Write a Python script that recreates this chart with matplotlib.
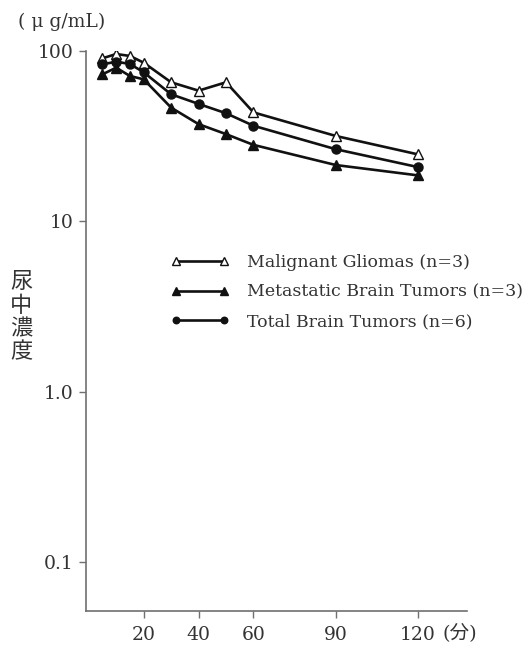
import matplotlib
matplotlib.use("Agg")
import matplotlib.pyplot as plt

plt.rcParams['font.family'] = ['DejaVu Serif', 'Noto Sans CJK JP', 'DejaVu Sans']

times = [5, 10, 15, 20, 30, 40, 50, 60, 90, 120]
malignant = [90.6, 96, 93.5, 85.4, 65.5, 58.5, 65.5, 43.6, 31.7, 24.7]
metastatic = [73, 79.8, 71.3, 68.2, 46.5, 37.2, 32.5, 28.1, 21.4, 18.6]
total = [83.5, 86.5, 83.9, 75, 55.7, 48.9, 43.1, 36.4, 26.5, 20.8]
labels = ["Malignant Gliomas (n=3)", "Metastatic Brain Tumors (n=3)", "Total Brain Tumors (n=6)"]
xticks = [20, 40, 60, 90, 120]
yticks = [0.1, 1.0, 10, 100]
ytick_labels = ["0.1", "1.0", "10", "100"]

fig = plt.figure(figsize=(5.31, 6.48), dpi=100)
ax = fig.add_axes([0.162, 0.0571, 0.717, 0.8642])

lc = '#111111'
lw = 1.9
ax.plot(times, malignant, color=lc, lw=lw, marker='^', ms=7.5, mfc='white', mec=lc, mew=1.0, label=labels[0], zorder=3)
ax.plot(times, metastatic, color=lc, lw=lw, marker='^', ms=7.5, mfc=lc, mec=lc, label=labels[1], zorder=3)
ax.plot(times, total, color=lc, lw=lw, marker='o', ms=6.5, mfc=lc, mec=lc, label=labels[2], zorder=4)

ax.set_yscale('log')
ax.set_ylim(0.0515, 100)
ax.set_xlim(-1, 137.7)
ax.set_yticks(yticks)
ax.set_yticklabels(ytick_labels)
ax.minorticks_off()
ax.set_xticks(xticks)
ax.set_xticklabels([str(t) for t in xticks])

axc = '#707070'
for s in ['top', 'right']:
    ax.spines[s].set_visible(False)
for s in ['left', 'bottom']:
    ax.spines[s].set_color(axc)
    ax.spines[s].set_linewidth(1.2)
ax.tick_params(axis='both', direction='out', length=5, width=1.0, color=axc,
               labelsize=13.5, labelcolor='#333333')
ax.tick_params(axis='y', pad=4)
ax.tick_params(axis='x', pad=6)

fig.text(0.834, 0.0245, "(分)", fontsize=14, color='#333333', ha='left', va='center')
fig.text(0.033, 0.966, "( μ g/mL)", fontsize=13.5, color='#333333', ha='left', va='center')
fig.text(0.040, 0.51, "尿\n中\n濃\n度", fontsize=16, color='#333333', ha='center', va='center',
         linespacing=1.08)

leg = ax.legend(loc='upper left', bbox_to_anchor=(0.292, 0.632), bbox_transform=fig.transFigure,
                frameon=False, numpoints=2, handlelength=3.4, handletextpad=1.0,
                labelspacing=0.72, fontsize=12.5, markerscale=0.72)
for t in leg.get_texts():
    t.set_color('#333333')

fig.savefig("out.png", dpi=100)
